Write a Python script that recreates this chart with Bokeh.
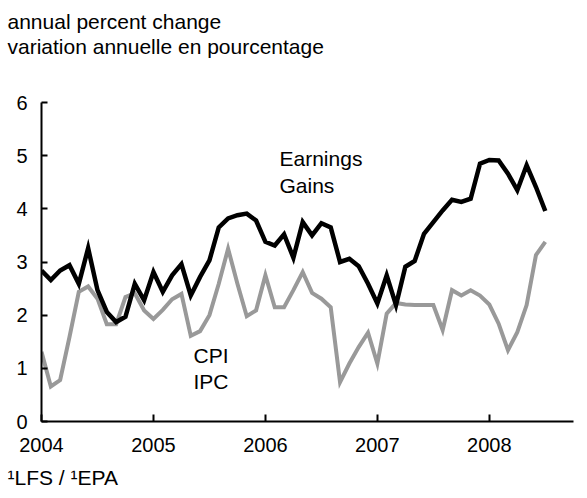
from bokeh.plotting import figure
from bokeh.models import FixedTicker, Label, Title
from bokeh.embed import file_html
from bokeh.resources import INLINE

# Monthly data, January 2004 to July 2008
start_year = 2004
earnings = [2.84, 2.66, 2.84, 2.94, 2.59, 3.26, 2.47, 2.06, 1.87, 1.97, 2.59, 2.28,
            2.81, 2.44, 2.75, 2.96, 2.37, 2.72, 3.03, 3.65, 3.82, 3.88, 3.91, 3.78,
            3.38, 3.31, 3.52, 3.08, 3.75, 3.50, 3.73, 3.65, 3.00, 3.06, 2.92, 2.59,
            2.22, 2.75, 2.19, 2.91, 3.02, 3.53, 3.75, 3.97, 4.17, 4.13, 4.19, 4.85,
            4.92, 4.91, 4.66, 4.35, 4.82, 4.41, 3.96]
cpi = [1.31, 0.66, 0.78, 1.59, 2.44, 2.54, 2.31, 1.83, 1.83, 2.34, 2.41, 2.09,
       1.93, 2.10, 2.30, 2.40, 1.61, 1.70, 2.00, 2.59, 3.25, 2.59, 1.98, 2.09,
       2.75, 2.15, 2.15, 2.47, 2.81, 2.42, 2.31, 2.15, 0.74, 1.09, 1.40, 1.67,
       1.09, 2.03, 2.23, 2.20, 2.19, 2.19, 2.19, 1.72, 2.47, 2.37, 2.47, 2.37,
       2.20, 1.84, 1.34, 1.68, 2.19, 3.13, 3.38]
x_ticks = [2004, 2005, 2006, 2007, 2008]
y_ticks = [0, 1, 2, 3, 4, 5, 6]
title_lines = ["annual percent change", "variation annuelle en pourcentage"]
footnote = "\u00b9LFS / \u00b9EPA"
earn_labels = ["Earnings", "Gains"]
cpi_labels = ["CPI", "IPC"]

months = [start_year + i / 12 for i in range(len(earnings))]

FONT = "Liberation Sans"
FS = "21px"
TICK_FS = "20px"
FRAME_L, FRAME_R, FRAME_T, FRAME_B = 41, 573, 102, 421
W, H = 587, 498

p = figure(width=W, height=H, x_range=(2004, 2008.752), y_range=(0, 6),
           output_backend="svg", toolbar_location=None,
           min_border_left=FRAME_L, min_border_right=W - FRAME_R,
           min_border_top=FRAME_T, min_border_bottom=H - FRAME_B)
p.outline_line_color = None
p.xgrid.visible = False
p.ygrid.visible = False
p.background_fill_color = "white"
p.border_fill_color = "white"
p.title.text = ""

p.line(months, cpi, line_color="#999999", line_width=4, line_join="miter")
p.line(months, earnings, line_color="#000000", line_width=4.5, line_join="miter")

for ax in (p.xaxis[0], p.yaxis[0]):
    ax.axis_line_width = 2
    ax.axis_line_color = "black"
    ax.major_tick_line_width = 2
    ax.major_tick_line_color = "black"
    ax.minor_tick_line_color = None
    ax.major_tick_out = 0
    ax.major_label_text_font = FONT
    ax.major_label_text_font_size = TICK_FS
    ax.major_label_text_color = "black"

p.xaxis[0].ticker = FixedTicker(ticks=x_ticks)
p.xaxis[0].major_tick_in = 7
p.xaxis[0].major_label_standoff = 16
p.yaxis[0].ticker = FixedTicker(ticks=y_ticks)
p.yaxis[0].major_tick_in = 6
p.yaxis[0].major_label_standoff = 14

def make_title(txt, standoff, **kw):
    return Title(text=txt, align="left", offset=7 - FRAME_L, standoff=standoff,
                 text_font=FONT, text_font_size=FS, text_font_style="normal",
                 text_color="black", **kw)

# spacer nearest the frame, then the two heading lines stacked outward
p.add_layout(make_title(" ", 20), "above")
p.add_layout(make_title(title_lines[1], 0), "above")
p.add_layout(make_title(title_lines[0], 0), "above")
p.add_layout(make_title(footnote, 19, vertical_align="bottom"), "below")

def px_to_x(px):
    return 2004 + (px - FRAME_L) / 111.95

def py_to_y(py):
    return (FRAME_B - py) / 53.17

def add_text(txt, px, py):
    p.add_layout(Label(x=px_to_x(px), y=py_to_y(py), text=txt, text_font=FONT,
                       text_font_size=FS, text_color="black", text_baseline="alphabetic",
                       text_align="left"))

add_text(earn_labels[0], 279, 158)
add_text(earn_labels[1], 279, 185)
add_text(cpi_labels[0], 193, 355)
add_text(cpi_labels[1], 193, 381)

open("out.html", "w").write(file_html(p, INLINE))
